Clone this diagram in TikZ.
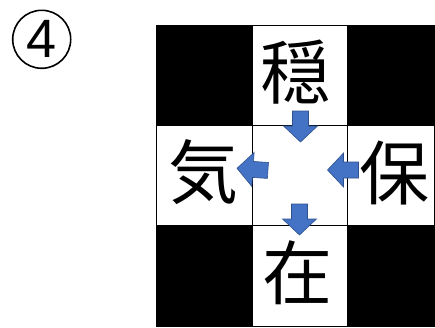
\documentclass[tikz,border=0pt]{standalone}
\usepackage{fontspec}
\setmainfont{Liberation Sans}
\newfontfamily\jpfont{Noto Sans CJK JP}
\definecolor{arrowblue}{HTML}{4472C4}
\definecolor{arrowedge}{HTML}{2F528F}
\tikzset{
  cellbox/.style={draw=black, line width=0.8pt, inner sep=0pt, outer sep=0pt, anchor=north west},
  darkcell/.style={cellbox, fill=black},
  lightcell/.style={cellbox, fill=white},
  kanji/.style={font=\jpfont\fontsize{70}{70}\selectfont, inner sep=0pt},
  blockarrow/.style={fill=arrowblue, draw=arrowedge, line width=0.6pt, line join=miter},
  pics/blkarr/.style={code={
    \draw[blockarrow] (0,0) -- (-16,17) -- (-16,8) -- (-31,8) -- (-31,-8) -- (-16,-8) -- (-16,-17) -- cycle;
  }}
}
\begin{document}
\begin{tikzpicture}[x=1pt, y=-1pt]
\useasboundingbox[fill=white] (0,0) rectangle (435,327);
% circled number
\node[circle, draw=black, line width=1.6pt, minimum size=58pt, inner sep=0pt,
      font=\fontsize{54}{54}\selectfont] (num) at (41.7,39.3) {4};
% grid cells
\node[darkcell,  minimum width=96pt, minimum height=100pt] (c11) at (156,25) {};
\node[lightcell, minimum width=95pt, minimum height=100pt] (c12) at (252,25) {};
\node[darkcell,  minimum width=87pt, minimum height=100pt] (c13) at (347,25) {};
\node[lightcell, minimum width=96pt, minimum height=100pt] (c21) at (156,125) {};
\node[lightcell, minimum width=95pt, minimum height=100pt] (c22) at (252,125) {};
\node[lightcell, minimum width=87pt, minimum height=100pt] (c23) at (347,125) {};
\node[darkcell,  minimum width=96pt, minimum height=101pt] (c31) at (156,225) {};
\node[lightcell, minimum width=95pt, minimum height=101pt] (c32) at (252,225) {};
\node[darkcell,  minimum width=87pt, minimum height=101pt] (c33) at (347,225) {};
% characters
\node[kanji] (top)    at (295.5,72.5) {穏};
\node[kanji] (left)   at (203,172)    {気};
\node[kanji] (right)  at (394.5,173)  {保};
\node[kanji] (bottom) at (297.5,272.5) {在};
% block arrows
\pic[rotate=-90] at (300.5,142) {blkarr};
\pic[rotate=176] at (237,168.3) {blkarr};
\pic[rotate=180] at (327.5,170) {blkarr};
\pic[rotate=-90] at (299.5,235) {blkarr};
\end{tikzpicture}
\end{document}
